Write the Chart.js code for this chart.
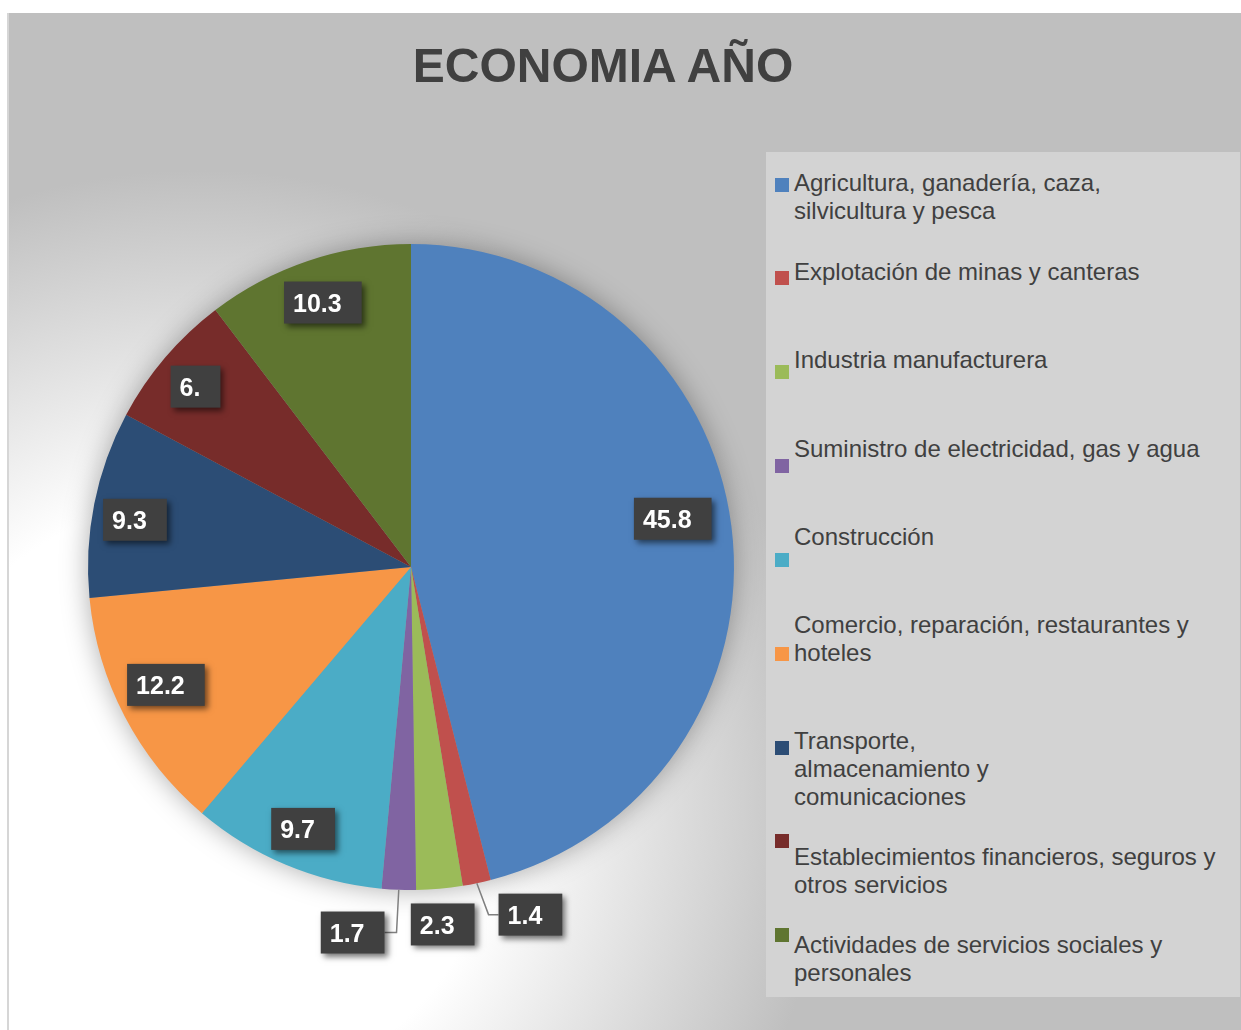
<!DOCTYPE html>
<html>
<head>
<meta charset="utf-8">
<script src="https://cdn.jsdelivr.net/npm/chart.js@4.4.1/dist/chart.umd.min.js"></script>
<style>
    body { margin: 0; background: #fff; }
    #pagina { position: relative; width: 1241px; height: 1030px; overflow: hidden; background: #fff;
              font-family: "Liberation Sans", Arial, sans-serif; }
    #marco { position: absolute; left: 8px; top: 13px; width: 1233px; height: 1017px;
             background: radial-gradient(circle 630px at 192px 787px, #ffffff 0px, #ffffff 300px, #bfbfbf 630px); }
    #bordeIzq { position: absolute; left: 7px; top: 13px; width: 2px; height: 1017px; background: #d6d6d6; }
    #grafico { position: absolute; left: 0; top: 0; }
    #titulo { position: absolute; left: 0; top: 42px; width: 1206px; text-align: center;
              font-weight: bold; font-size: 48px; line-height: 48px; color: #404040; }
    #leyenda { position: absolute; left: 766px; top: 152px; width: 474px; height: 845px; background: #d3d3d3; }
    .marca { position: absolute; left: 775px; width: 14px; height: 14px; }
    .texto { position: absolute; left: 794px; font-size: 24px; line-height: 28px; color: #404040; white-space: nowrap; }
</style>
</head>
<body>
<div id="pagina">
    <div id="marco"><canvas id="grafico" width="1233" height="1017"></canvas></div>
    <div id="bordeIzq"></div>
    <div id="titulo">ECONOMIA AÑO</div>
    <div id="leyenda"></div>
</div>
<script>
// --- DATOS ---
const categorias = [
    ['Agricultura, ganadería, caza,', 'silvicultura y pesca'],
    ['Explotación de minas y canteras'],
    ['Industria manufacturera'],
    ['Suministro de electricidad, gas y agua'],
    ['Construcción'],
    ['Comercio, reparación, restaurantes y', 'hoteles'],
    ['Transporte,', 'almacenamiento y', 'comunicaciones'],
    ['Establecimientos financieros, seguros y', 'otros servicios'],
    ['Actividades de servicios sociales y', 'personales']
];
const valores = [45.8, 1.4, 2.3, 1.7, 9.7, 12.2, 9.3, 6.8, 10.3];
const etiquetas = ['45.8', '1.4', '2.3', '1.7', '9.7', '12.2', '9.3', '6.', '10.3'];

// --- ESTILO ---
const colores = ['#4f81bd', '#c0504d', '#9bbb59', '#8064a2', '#4bacc6', '#f79646', '#2c4d75', '#772c2a', '#5f7530'];
// posición de cada etiqueta: fracción del radio y giro en grados
const radioEtiqueta = [0.824, 1.138, 1.111, 1.146, 0.877, 0.842, 0.867, 0.870, 0.863];
const giroEtiqueta = [-3.3, -7.2, 0, 6.9, -0.4, 1.9, -1.6, -0.5, 0.2];
// posiciones verticales de la leyenda
const topMarca = [178, 271, 365, 459, 553, 647, 741, 834, 928];
const topTexto = [169, 258, 346, 435, 523, 611, 727, 843, 931];

// leyenda en HTML
const pagina = document.getElementById('pagina');
categorias.forEach((lineas, i) => {
    const m = document.createElement('div');
    m.className = 'marca';
    m.style.top = topMarca[i] + 'px';
    m.style.background = colores[i];
    pagina.appendChild(m);
    const t = document.createElement('div');
    t.className = 'texto';
    t.style.top = topTexto[i] + 'px';
    t.innerHTML = lineas.join('<br>');
    pagina.appendChild(t);
});

// sombra suave detrás del pastel
const sombraPastel = {
    id: 'sombraPastel',
    beforeDatasetsDraw(chart) {
        const arco = chart.getDatasetMeta(0).data[0];
        const ctx = chart.ctx;
        ctx.save();
        ctx.shadowColor = 'rgba(0,0,0,0.35)';
        ctx.shadowBlur = 28;
        ctx.fillStyle = '#999';
        ctx.beginPath();
        ctx.arc(arco.x, arco.y, arco.outerRadius - 1, 0, Math.PI * 2);
        ctx.fill();
        ctx.restore();
    }
};

// etiquetas de datos en cajas oscuras
const cajasEtiquetas = {
    id: 'cajasEtiquetas',
    afterDatasetsDraw(chart) {
        const ctx = chart.ctx;
        const arcos = chart.getDatasetMeta(0).data;
        ctx.save();
        ctx.font = 'bold 25px "Liberation Sans", Arial, sans-serif';
        arcos.forEach((arco, i) => {
            const medio = (arco.startAngle + arco.endAngle) / 2;
            const ang = medio + giroEtiqueta[i] * Math.PI / 180;
            const r = arco.outerRadius * radioEtiqueta[i];
            const cx = arco.x + Math.cos(ang) * r;
            const cy = arco.y + Math.sin(ang) * r;
            const tw = ctx.measureText(etiquetas[i]).width;
            const w = tw + 29, h = 42;
            const bx = cx - w / 2, by = cy - h / 2;

            if (radioEtiqueta[i] > 1.12) {
                const ex = arco.x + Math.cos(medio) * arco.outerRadius;
                const ey = arco.y + Math.sin(medio) * arco.outerRadius;
                let lado, codo;
                if (cx > ex) { lado = bx; codo = bx - 10; } else { lado = bx + w; codo = bx + w + 12; }
                ctx.strokeStyle = '#808080';
                ctx.lineWidth = 1.5;
                ctx.beginPath();
                ctx.moveTo(ex, ey);
                ctx.lineTo(codo, cy);
                ctx.lineTo(lado, cy);
                ctx.stroke();
            }

            ctx.save();
            ctx.shadowColor = 'rgba(0,0,0,0.55)';
            ctx.shadowBlur = 6;
            ctx.shadowOffsetX = 3;
            ctx.shadowOffsetY = 3;
            ctx.fillStyle = '#404040';
            ctx.fillRect(bx, by, w, h);
            ctx.restore();

            ctx.fillStyle = '#ffffff';
            ctx.textBaseline = 'alphabetic';
            ctx.textAlign = 'left';
            ctx.fillText(etiquetas[i], bx + 9, cy + 9.5);
        });
        ctx.restore();
    }
};

new Chart(document.getElementById('grafico'), {
    type: 'pie',
    data: {
        labels: categorias,
        datasets: [{
            data: valores,
            backgroundColor: colores,
            borderWidth: 0,
            hoverOffset: 0,
            offset: 0
        }]
    },
    options: {
        responsive: false,
        animation: false,
        events: [],
        layout: { padding: { left: 80, top: 231, right: 507, bottom: 140 } },
        plugins: {
            legend: { display: false },
            title: { display: false },
            tooltip: { enabled: false }
        }
    },
    plugins: [sombraPastel, cajasEtiquetas]
});
</script>
</body>
</html>
